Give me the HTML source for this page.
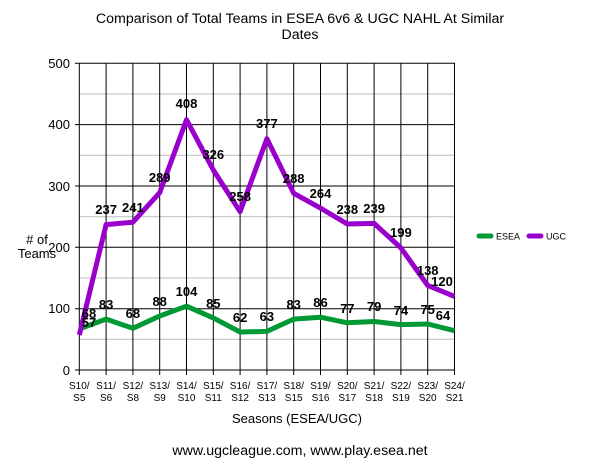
<!DOCTYPE html>
<html><head><style>body{margin:0;background:#fff}svg{display:block}text{font-family:"Liberation Sans",sans-serif}</style></head><body>
<svg width="600" height="463" xmlns="http://www.w3.org/2000/svg">
<text x="300" y="23" font-size="14.2" text-anchor="middle">Comparison of Total Teams in ESEA 6v6 &amp; UGC NAHL At Similar</text>
<text x="300" y="39" font-size="14.2" text-anchor="middle">Dates</text>
<g stroke="#bbb" stroke-width="1">
<line x1="79" y1="94" x2="455" y2="94"/><line x1="79" y1="155.3" x2="455" y2="155.3"/><line x1="79" y1="216.7" x2="455" y2="216.7"/><line x1="79" y1="278" x2="455" y2="278"/><line x1="79" y1="339.3" x2="455" y2="339.3"/>
</g>
<g stroke="#000" stroke-width="1">
<line x1="75" y1="63.3" x2="455" y2="63.3"/><line x1="75" y1="124.6" x2="455" y2="124.6"/><line x1="75" y1="186" x2="455" y2="186"/><line x1="75" y1="247.3" x2="455" y2="247.3"/><line x1="75" y1="308.7" x2="455" y2="308.7"/><line x1="75" y1="370" x2="455" y2="370"/>
<line x1="79.3" y1="63" x2="79.3" y2="375"/><line x1="106.1" y1="63" x2="106.1" y2="375"/><line x1="132.9" y1="63" x2="132.9" y2="375"/><line x1="159.7" y1="63" x2="159.7" y2="375"/><line x1="186.5" y1="63" x2="186.5" y2="375"/><line x1="213.3" y1="63" x2="213.3" y2="375"/><line x1="240.1" y1="63" x2="240.1" y2="375"/><line x1="266.9" y1="63" x2="266.9" y2="375"/><line x1="293.7" y1="63" x2="293.7" y2="375"/><line x1="320.5" y1="63" x2="320.5" y2="375"/><line x1="347.3" y1="63" x2="347.3" y2="375"/><line x1="374.1" y1="63" x2="374.1" y2="375"/><line x1="400.9" y1="63" x2="400.9" y2="375"/><line x1="427.7" y1="63" x2="427.7" y2="375"/><line x1="454.5" y1="63" x2="454.5" y2="375"/>
</g>
<g font-size="13" text-anchor="end">
<text x="70" y="68">500</text><text x="70" y="129">400</text><text x="70" y="191">300</text><text x="70" y="252">200</text><text x="70" y="313">100</text><text x="70" y="375">0</text>
</g>
<g font-size="10" text-anchor="middle">
<text x="79.3" y="389">S10/</text><text x="79.3" y="401">S5</text>
<text x="106.1" y="389">S11/</text><text x="106.1" y="401">S6</text>
<text x="132.9" y="389">S12/</text><text x="132.9" y="401">S8</text>
<text x="159.7" y="389">S13/</text><text x="159.7" y="401">S9</text>
<text x="186.5" y="389">S14/</text><text x="186.5" y="401">S10</text>
<text x="213.3" y="389">S15/</text><text x="213.3" y="401">S11</text>
<text x="240.1" y="389">S16/</text><text x="240.1" y="401">S12</text>
<text x="266.9" y="389">S17/</text><text x="266.9" y="401">S13</text>
<text x="293.7" y="389">S18/</text><text x="293.7" y="401">S15</text>
<text x="320.5" y="389">S19/</text><text x="320.5" y="401">S16</text>
<text x="347.3" y="389">S20/</text><text x="347.3" y="401">S17</text>
<text x="374.1" y="389">S21/</text><text x="374.1" y="401">S18</text>
<text x="400.9" y="389">S22/</text><text x="400.9" y="401">S19</text>
<text x="427.7" y="389">S23/</text><text x="427.7" y="401">S20</text>
<text x="454.5" y="389">S24/</text><text x="454.5" y="401">S21</text>
</g>
<text x="297" y="423" font-size="13" text-anchor="middle">Seasons (ESEA/UGC)</text>
<text x="300" y="455" font-size="14.2" text-anchor="middle">www.ugcleague.com, www.play.esea.net</text>
<text x="37" y="244" font-size="13" text-anchor="middle"># of</text>
<text x="37" y="258" font-size="13" text-anchor="middle">Teams</text>
<polyline fill="none" stroke="#009933" stroke-width="5" stroke-linejoin="round" points="79.3,328.9 106.1,319.1 132.9,328.3 159.7,316 186.5,306.2 213.3,317.9 240.1,332 266.9,331.4 293.7,319.1 320.5,317.2 347.3,322.8 374.1,321.5 400.9,324.6 427.7,324 454.5,330.7"/>
<polyline fill="none" stroke="#9900cc" stroke-width="5" stroke-linejoin="round" points="79.3,335 106.1,224.6 132.9,222.2 159.7,192.7 186.5,119.7 213.3,170 240.1,211.7 266.9,138.7 293.7,193.3 320.5,208.1 347.3,224 374.1,223.4 400.9,247.9 427.7,285.4 454.5,296.4"/>
<g font-size="13" font-weight="bold" text-anchor="middle">
<text x="89" y="318">68</text><text x="106.1" y="309">83</text><text x="132.9" y="318">68</text><text x="159.7" y="306">88</text><text x="186.5" y="296">104</text><text x="213.3" y="308">85</text><text x="240.1" y="322">62</text><text x="266.9" y="321">63</text><text x="293.7" y="309">83</text><text x="320.5" y="307">86</text><text x="347.3" y="313">77</text><text x="374.1" y="311">79</text><text x="400.9" y="315">74</text><text x="427.7" y="314">75</text><text x="443" y="320">64</text>
<text x="89" y="327">57</text><text x="106.1" y="214">237</text><text x="132.9" y="212">241</text><text x="159.7" y="182">289</text><text x="186.5" y="108">408</text><text x="213.3" y="159">326</text><text x="240.1" y="201">258</text><text x="266.9" y="128">377</text><text x="293.7" y="183">288</text><text x="320.5" y="198">264</text><text x="347.3" y="214">238</text><text x="374.1" y="213">239</text><text x="400.9" y="237">199</text><text x="427.7" y="275">138</text><text x="442" y="286">120</text>
</g>
<line x1="479" y1="236" x2="491" y2="236" stroke="#009933" stroke-width="5" stroke-linecap="round"/>
<text x="496" y="239.5" font-size="9">ESEA</text>
<line x1="529" y1="236" x2="541" y2="236" stroke="#9900cc" stroke-width="5" stroke-linecap="round"/>
<text x="546" y="239.5" font-size="9">UGC</text>
</svg>
</body></html>
